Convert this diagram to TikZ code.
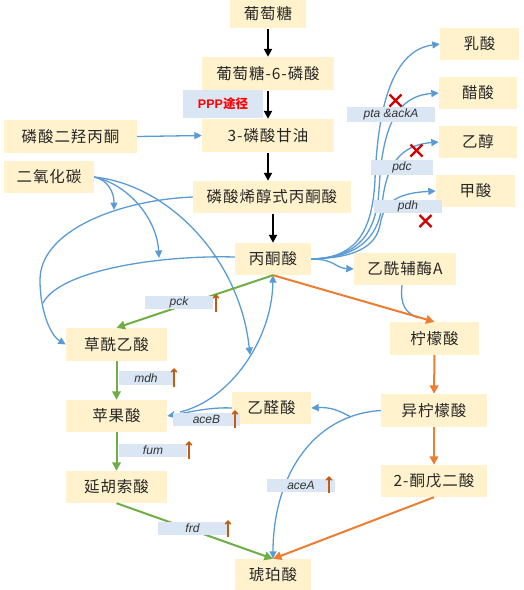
\documentclass[tikz,border=0pt]{standalone}
\usepackage{fontspec}
\setmainfont{Liberation Sans}
\newfontfamily\cjk[LetterSpace=6]{Noto Sans CJK SC}
\newfontfamily\cjkb{Noto Sans CJK SC}
\usetikzlibrary{arrows.meta}
\definecolor{boxc}{HTML}{FFF2CC}
\definecolor{labc}{HTML}{DAE6F4}
\definecolor{blueln}{HTML}{5B9BD5}
\definecolor{greenln}{HTML}{70AD47}
\definecolor{orangeln}{HTML}{ED7D31}
\definecolor{uparc}{HTML}{C55A11}
\definecolor{xred}{HTML}{D00000}
\begin{document}
\begin{tikzpicture}[x=1pt,y=-1pt,
  mbox/.style={rectangle,fill=boxc,inner sep=0pt,font=\cjk\fontsize{15.5}{15.5}\selectfont,text=black!85},
  lab/.style={rectangle,fill=labc,inner sep=0pt,font=\itshape\fontsize{12}{12}\selectfont,text=black!80},
  tipb/.style={-{Triangle[length=7.5pt,width=7pt]}},
  blk/.style={-{Triangle[length=8pt,width=8pt]},line width=2pt,black},
  bl/.style={tipb,line width=1.3pt,blueln},
  blnt/.style={line width=1.3pt,blueln},
  gr/.style={-{Triangle[length=8.5pt,width=8.5pt]},line width=2pt,greenln},
  og/.style={-{Triangle[length=8.5pt,width=8.5pt]},line width=2pt,orangeln},
  upar/.style={-{Straight Barb[length=3pt,width=5.5pt]},line width=1.5pt,uparc},
  xmk/.style={line width=2.4pt,xred}
]
\useasboundingbox (0,0) rectangle (523,590);
% ---- boxes ----
\node[mbox,minimum width=76pt,minimum height=28pt] (glc) at (268,14) {葡萄糖};
\node[mbox,minimum width=132pt,minimum height=33pt] (g6p) at (268,73.5) {葡萄糖-6-磷酸};
\node[mbox,minimum width=132pt,minimum height=33pt] (g3p) at (268,135.5) {3-磷酸甘油};
\node[mbox,minimum width=133pt,minimum height=33pt] (dhap) at (70.5,136.5) {磷酸二羟丙酮};
\node[mbox,minimum width=90pt,minimum height=32pt] (co2) at (49,177) {二氧化碳};
\node[mbox,minimum width=158pt,minimum height=32pt] (pep) at (272,197) {磷酸烯醇式丙酮酸};
\node[mbox,minimum width=76pt,minimum height=32pt] (pyr) at (273,259) {丙酮酸};
\node[mbox,minimum width=102pt,minimum height=32pt] (acoa) at (405,269) {乙酰辅酶A};
\node[mbox,minimum width=79pt,minimum height=32pt] (lac) at (479.5,44) {乳酸};
\node[mbox,minimum width=78pt,minimum height=32pt] (ace) at (478,93) {醋酸};
\node[mbox,minimum width=78pt,minimum height=32pt] (eth) at (478,142) {乙醇};
\node[mbox,minimum width=79pt,minimum height=32pt] (form) at (475.5,191) {甲酸};
\node[mbox,minimum width=101pt,minimum height=33pt] (oaa) at (116.5,344.5) {草酰乙酸};
\node[mbox,minimum width=101pt,minimum height=32pt] (mal) at (116.5,416) {苹果酸};
\node[mbox,minimum width=101pt,minimum height=32pt] (fuma) at (116.5,487) {延胡索酸};
\node[mbox,minimum width=76pt,minimum height=31pt] (suc) at (273,574.5) {琥珀酸};
\node[mbox,minimum width=79pt,minimum height=32pt] (glx) at (271.5,408) {乙醛酸};
\node[mbox,minimum width=89pt,minimum height=33pt] (cit) at (434.5,338.5) {柠檬酸};
\node[mbox,minimum width=106pt,minimum height=33pt] (icit) at (434,410.5) {异柠檬酸};
\node[mbox,minimum width=106pt,minimum height=32pt] (akg) at (434,481) {2-酮戊二酸};
% ---- black main path ----
\draw[blk,shorten <=1pt] (glc.south) -- (g6p.north);
\draw[blk,shorten <=1pt] (g6p.south) -- (g3p.north);
\draw[blk,shorten <=1pt] (g3p.south) -- (g3p.south |- pep.north);
\draw[blk,shorten <=1pt] (pyr.north |- pep.south) -- (pyr.north);
% ---- blue ----
\draw[bl] (dhap.east) -- (g3p.west);
% fan from pyruvate
\draw[bl] (pyr.east) .. controls (350,258) and (372,240) .. (375,180) .. controls (378,100) and (395,50) .. (lac.west);
\draw[bl] (pyr.east) .. controls (352,258) and (376,240) .. (379,190) .. controls (382,130) and (395,96) .. (ace.west);
\draw[bl] (pyr.east) .. controls (355,258) and (378,240) .. (382,205) .. controls (386,165) and (400,145) .. (eth.west);
\draw[bl] (pyr.east) .. controls (358,258) and (376,245) .. (380,225) .. controls (384,200) and (400,193) .. (form.west);
\draw[bl] (pyr.east) .. controls (335,259) and (335,268) .. (acoa.west);
% acetyl-CoA into citrate arrow
\coordinate (acj) at (418,318);
\draw[blnt] ([xshift=-3pt]acoa.south) .. controls (400,305) and (405,312) .. (acj);
% CO2 fixation
\coordinate (oaj) at (43,303);
\draw[bl] (pep.west) .. controls (120,200) and (40,230) .. (40,280) .. controls (40,310) and (50,335) .. (oaa.west);
\draw[blnt] ([yshift=2pt]pyr.west) .. controls (160,255) and (60,270) .. (oaj);
\coordinate (c1) at (114,210);
\coordinate (c2) at (159,258);
\coordinate (c3) at (250,355);
\draw[bl] (co2.east) .. controls (108,180) and (114,192) .. (c1);
\draw[bl] (co2.east) .. controls (130,185) and (157,220) .. (c2);
\draw[bl] (co2.east) .. controls (170,185) and (240,260) .. (c3);
% malate -> pyruvate
\coordinate (mj) at (180,412);
\draw[bl] (mj) .. controls (230,400) and (272,340) .. (pyr.south);
% glyoxylate -> malate
\draw[bl] (glx.west) .. controls (210,407) and (190,412) .. (mal.east);
% isocitrate -> succinate (aceA) and -> glyoxylate
\coordinate (ij) at (351,417);
\draw[bl] (icit.west) .. controls (310,415) and (273,480) .. (suc.north);
\draw[bl] (ij) .. controls (338,410) and (330,407) .. (glx.east);
% ---- green ----
\draw[gr] (pyr.south) -- (oaa.north);
\draw[gr] (oaa.south) -- (mal.north);
\draw[gr] (mal.south) -- (fuma.north);
\draw[gr] (fuma.south) -- (suc.north);
% ---- orange ----
\draw[og] (pyr.south) -- (cit.north);
\draw[og] (cit.south) -- (icit.north);
\draw[og] (icit.south) -- (akg.north);
\draw[og] (akg.south) -- (suc.north);
% ---- labels ----
\node[rectangle,fill=labc,inner sep=0pt,minimum width=80pt,minimum height=28pt,text=red,font=\bfseries\fontsize{12.5}{12.5}\selectfont] (ppp) at (223,104) {PPP{\cjkb 途径}};
\node[lab,minimum width=88pt,minimum height=15pt] (lpta) at (391,114.5) {pta \&ackA};
\node[lab,minimum width=62pt,minimum height=15pt] (lpdc) at (402,167.5) {pdc};
\node[lab,minimum width=68pt,minimum height=13pt] (lpdh) at (408,206.5) {pdh};
\node[lab,minimum width=68pt,minimum height=13pt] (lpck) at (179,302.5) {pck};
\node[lab,minimum width=54pt,minimum height=14pt] (lmdh) at (146,378) {mdh};
\node[lab,minimum width=67pt,minimum height=13pt] (laceb) at (206.5,419.5) {aceB};
\node[lab,minimum width=68pt,minimum height=13pt] (lfum) at (153,450.5) {fum};
\node[lab,minimum width=68pt,minimum height=13pt] (lacea) at (301,485.5) {aceA};
\node[lab,minimum width=69pt,minimum height=13pt] (lfrd) at (192.5,528.5) {frd};
% ---- up arrows ----
\draw[upar] (216,312) -- (216,294);
\draw[upar] (174,387) -- (174,368);
\draw[upar] (235,428) -- (235,410);
\draw[upar] (189,459) -- (189,441);
\draw[upar] (329,493) -- (329,476);
\draw[upar] (228,537) -- (228,520);
% ---- red crosses ----
\draw[xmk] (389.5,94.5) -- (401.5,106.5) (401.5,94.5) -- (389.5,106.5);
\draw[xmk] (410.5,144.5) -- (422.5,156.5) (422.5,144.5) -- (410.5,156.5);
\draw[xmk] (419.5,215) -- (431.5,227) (431.5,215) -- (419.5,227);
\end{tikzpicture}
\end{document}
